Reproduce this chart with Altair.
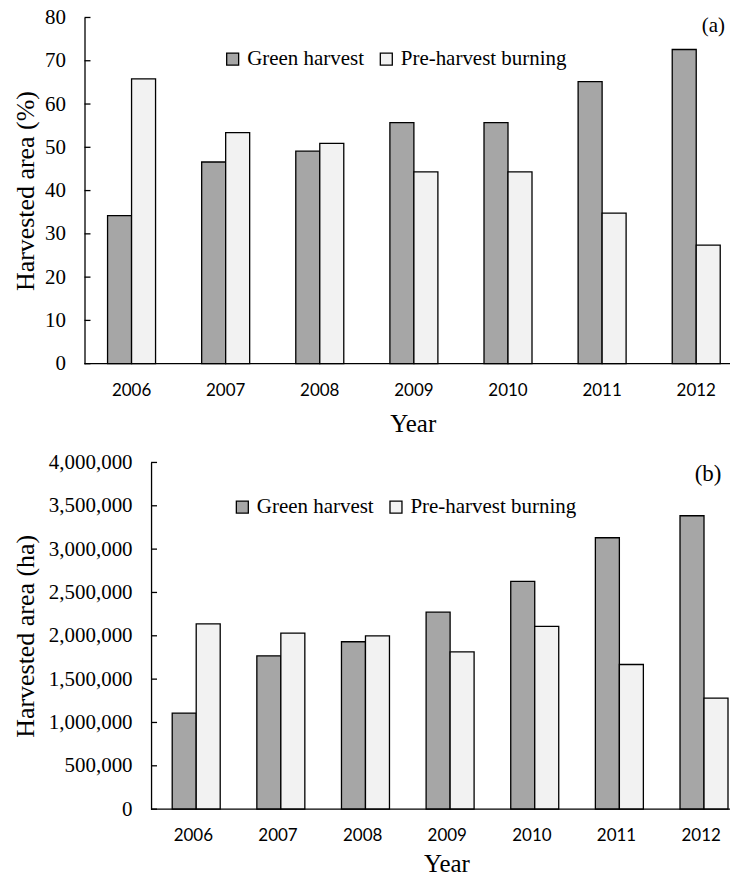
import altair as alt
import pandas as pd

# Harvest years shown on both panels
years = ["2006", "2007", "2008", "2009", "2010", "2011", "2012"]
series = ["Green harvest", "Pre-harvest burning"]

# Panel (a): share of harvested area, %
green_pct = [34.2, 46.6, 49.1, 55.7, 55.7, 65.2, 72.6]
burn_pct = [65.8, 53.4, 50.9, 44.3, 44.3, 34.8, 27.4]
pct_ticks = [0, 10, 20, 30, 40, 50, 60, 70, 80]

# Panel (b): harvested area, ha
green_ha = [1108000, 1769000, 1931000, 2273000, 2627000, 3131000, 3385000]
burn_ha = [2138000, 2031000, 2000000, 1815000, 2108000, 1669000, 1281000]
ha_ticks = [0, 500000, 1000000, 1500000, 2000000, 2500000, 3000000, 3500000, 4000000]

fill_colors = ["#a6a6a6", "#f2f2f2"]
SERIF = "Liberation Serif"
LINE = 1.3
PANEL_W = 647  # both panels share one view width; panel (b) starts its axis further right


def long_table(first, second):
    rows = []
    for yr, a, b in zip(years, first, second):
        rows.append({"year": yr, "series": series[0], "value": a})
        rows.append({"year": yr, "series": series[1], "value": b})
    return pd.DataFrame(rows)


def band_scale(shift, step, inner):
    """Band scale whose categories sit one step apart, the first centred step/2
    from the value axis, with the last one running off the right edge."""
    span = PANEL_W - shift
    n = len(years)
    outer = (span / step - n + inner) / 2
    leftover = span - step * (n - inner)
    align = (step * inner / 2) / leftover
    return alt.Scale(range=[shift, PANEL_W], paddingInner=inner,
                     paddingOuter=outer, align=align)


def panel(table, ticks, fmt, ytitle, tag, tag_size, *, shift, height, step, inner,
          ytitle_x, xtitle_x, xtitle_y, legend_x, legend_y, tag_x, tag_y):
    y_scale = alt.Scale(domain=[ticks[0], ticks[-1]], nice=False, zero=True)

    bars = alt.Chart(table).mark_bar(stroke="black", strokeWidth=LINE, opacity=1).encode(
        x=alt.X(
            "year:N",
            sort=years,
            scale=band_scale(shift, step, inner),
            axis=alt.Axis(
                title="Year", domain=False, ticks=False, tickSize=0, grid=False,
                labelAngle=0, labelPadding=18.5, labelFont="Lato", labelFontSize=17,
                labelColor="black", titleFont=SERIF, titleFontSize=25,
                titleFontWeight="normal", titleColor="black", titleX=shift + xtitle_x,
                titleY=xtitle_y, titleBaseline="alphabetic",
            ),
        ),
        xOffset=alt.XOffset("series:N", sort=series,
                            scale=alt.Scale(paddingInner=0, paddingOuter=0)),
        y=alt.Y(
            "value:Q",
            scale=y_scale,
            axis=alt.Axis(
                values=ticks, format=fmt, title=ytitle, grid=False, offset=-shift,
                domain=True, domainColor="black", domainWidth=LINE,
                ticks=False, tickSize=0, labelPadding=19,
                labelFont=SERIF, labelFontSize=21, labelColor="black",
                titleFont=SERIF, titleFontSize=26, titleFontWeight="normal",
                titleColor="black", titleX=ytitle_x, titleY=height / 2,
                titleBaseline="alphabetic",
            ),
        ),
        color=alt.Color(
            "series:N",
            scale=alt.Scale(domain=series, range=fill_colors),
            legend=alt.Legend(
                title=None, orient="none", legendX=shift + legend_x, legendY=legend_y,
                direction="horizontal", symbolType="square", symbolSize=144,
                symbolStrokeColor="black", symbolStrokeWidth=LINE, symbolOpacity=1,
                labelFont=SERIF, labelFontSize=21, labelColor="black",
                labelOffset=4, columnPadding=11, padding=0, labelLimit=400,
            ),
        ),
    )

    # inward tick marks on the value axis
    tick_marks = alt.Chart(pd.DataFrame({"value": ticks})).mark_rule(
        color="black", strokeWidth=LINE
    ).encode(
        y=alt.Y("value:Q", scale=y_scale),
        x=alt.value(shift),
        x2=alt.value(shift + 6),
    )

    # category axis baseline running to the right edge
    baseline = alt.Chart(pd.DataFrame({"value": [ticks[0]]})).mark_rule(
        color="black", strokeWidth=LINE
    ).encode(
        y=alt.Y("value:Q", scale=y_scale),
        x=alt.value(shift),
        x2=alt.value(PANEL_W),
    )

    label = alt.Chart(pd.DataFrame({"tag": [tag]})).mark_text(
        font=SERIF, fontSize=tag_size, color="black", align="center", baseline="alphabetic"
    ).encode(text="tag:N", x=alt.value(shift + tag_x), y=alt.value(tag_y))

    return alt.layer(bars, tick_marks, baseline, label).properties(
        width=PANEL_W, height=height
    )


top = panel(
    long_table(green_pct, burn_pct), pct_ticks, "d", "Harvested area (%)", "(a)", 21,
    shift=0, height=347, step=94.33, inner=0.49,
    ytitle_x=-51.5, xtitle_x=329, xtitle_y=67.7,
    legend_x=138, legend_y=31, tag_x=630.4, tag_y=15,
)

bottom = panel(
    long_table(green_ha, burn_ha), ha_ticks, ",d", "Harvested area (ha)", "(b)", 23,
    shift=66.7, height=347.5, step=84.83, inner=0.5,
    ytitle_x=-117.4, xtitle_x=296, xtitle_y=62.7,
    legend_x=81, legend_y=34, tag_x=558.3, tag_y=19,
)

chart = alt.vconcat(top, bottom, spacing=15).resolve_scale(
    color="independent"
).resolve_legend(
    color="independent"
).properties(
    padding={"left": 11.7, "top": 5.5, "right": 0, "bottom": 0},
    background="white",
).configure_view(strokeWidth=0)

chart.save("out.html", embed_options={"renderer": "svg", "actions": False})
